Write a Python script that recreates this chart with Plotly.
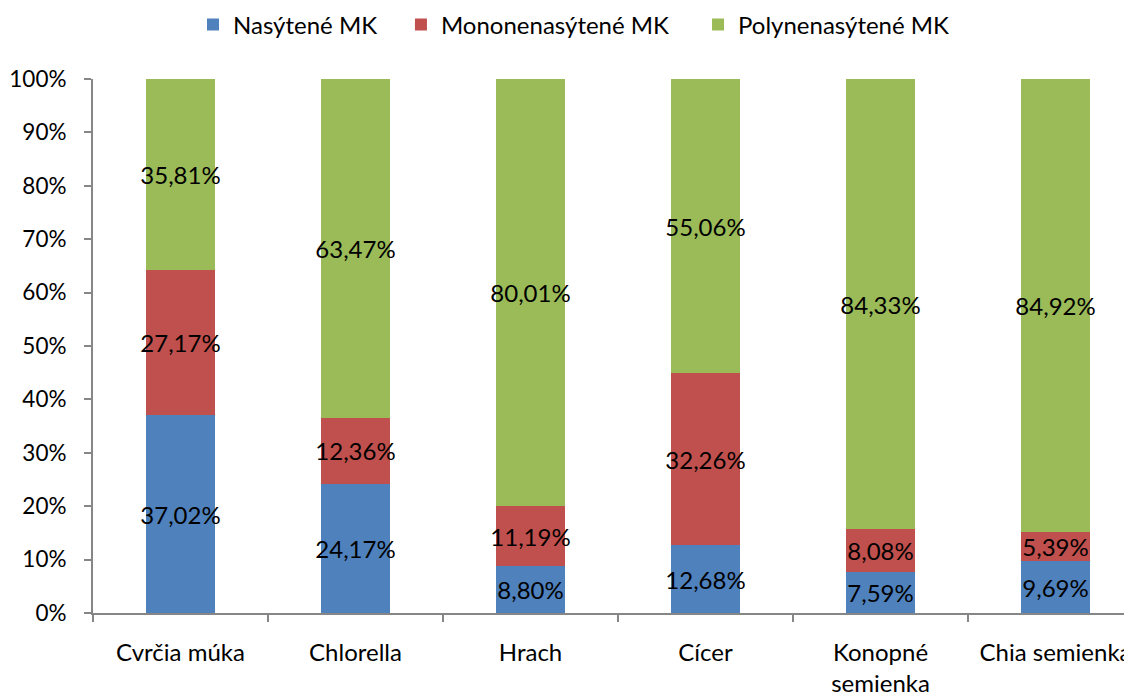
import plotly.graph_objects as go

# Categories and fatty acid shares (%)
categories = ['Cvrčia múka', 'Chlorella', 'Hrach', 'Cícer', 'Konopné<br>semienka', 'Chia semienka']
nasytene = [37.02, 24.17, 8.80, 12.68, 7.59, 9.69]
mononenasytene = [27.17, 12.36, 11.19, 32.26, 8.08, 5.39]
polynenasytene = [35.81, 63.47, 80.01, 55.06, 84.33, 84.92]

y_tick_values = [0, 10, 20, 30, 40, 50, 60, 70, 80, 90, 100]
y_tick_labels = ['0%', '10%', '20%', '30%', '40%', '50%', '60%', '70%', '80%', '90%', '100%']

series_names = ['Nasýtené MK', 'Mononenasýtené MK', 'Polynenasýtené MK']
series_colors = ['#4F81BD', '#C0504D', '#9BBB59']
legend_ids = ['legend', 'legend2', 'legend3']
legend_x = [0.1646, 0.3496, 0.6139]  # one legend box per series, like Excel spacing

FONT = 'Lato'
SIZE = 24


def fmt(v):
    # Slovak decimal comma
    return f'{v:.2f}'.replace('.', ',') + '%'


fig = go.Figure()

for name, values, color, leg in zip(series_names,
                                    [nasytene, mononenasytene, polynenasytene],
                                    series_colors, legend_ids):
    fig.add_trace(go.Bar(
        x=categories,
        y=values,
        name=name,
        legend=leg,
        showlegend=True,
        marker_color=color,
        marker_line_width=0,
        text=[fmt(v) for v in values],
        textposition='inside',
        insidetextanchor='middle',
        textangle=0,
        constraintext='none',
        textfont={'family': FONT, 'size': SIZE, 'color': 'black'},
    ))

legend_style = {
    'orientation': 'h',
    'xref': 'container',
    'xanchor': 'left',
    'yref': 'container',
    'y': 0.9754,
    'yanchor': 'middle',
    'font': {'family': FONT, 'size': SIZE},
    'bgcolor': 'rgba(0,0,0,0)',
}

# page body has an 8px margin, so the figure is 8px smaller than the window
fig.update_layout(
    showlegend=True,
    barmode='stack',
    bargap=0.605,
    width=1124,
    height=690,
    margin={'l': 85, 'r': 0, 't': 71, 'b': 85},
    plot_bgcolor='white',
    paper_bgcolor='white',
    font={'family': FONT, 'size': SIZE, 'color': 'black'},
    legend={**legend_style, 'x': legend_x[0]},
    legend2={**legend_style, 'x': legend_x[1]},
    legend3={**legend_style, 'x': legend_x[2]},
    xaxis={
        'type': 'category',
        'range': [-0.5, 5.437],
        'automargin': False,
        'showline': True,
        'linecolor': '#868686',
        'linewidth': 2,
        'ticks': 'outside',
        'tickson': 'boundaries',
        'ticklen': 7,
        'tickcolor': '#868686',
        'tickwidth': 2,
        'showgrid': False,
        'ticklabelstandoff': 17,
    },
    yaxis={
        'range': [0, 100],
        'automargin': False,
        'tickmode': 'array',
        'tickvals': y_tick_values,
        'ticktext': y_tick_labels,
        'tickfont': {'family': FONT, 'size': 22.5},
        'showline': True,
        'linecolor': '#868686',
        'linewidth': 2,
        'ticks': 'outside',
        'ticklen': 7,
        'tickcolor': '#868686',
        'tickwidth': 2,
        'showgrid': False,
        'zeroline': False,
        'ticklabelstandoff': 13,
    },
)

fig.write_html('out.html')
